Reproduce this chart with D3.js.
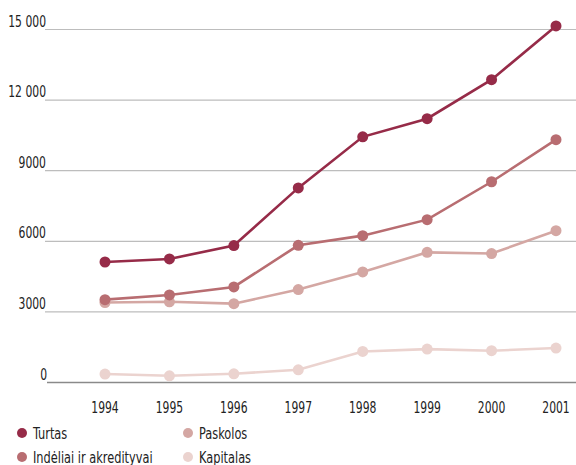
<!DOCTYPE html>
<html>
<head>
<meta charset="utf-8">
<script src="https://cdn.jsdelivr.net/npm/d3@7"></script>
<style>
  body { margin: 0; background: #fff; }
  svg { display: block; font-family: "DejaVu Sans Condensed", "Liberation Sans Narrow", sans-serif; }
</style>
</head>
<body>
<div id="chart"></div>
<script>
// Line chart: bank balance items by year
const years = [1994, 1995, 1996, 1997, 1998, 1999, 2000, 2001];
const yTicks = [0, 3000, 6000, 9000, 12000, 15000];

const turtas    = [5120, 5250, 5820, 8270, 10440, 11210, 12870, 15150];
const indeliai  = [3520, 3720, 4060, 5830, 6240, 6920, 8530, 10320];
const paskolos  = [3400, 3430, 3350, 3950, 4700, 5530, 5480, 6450];
const kapitalas = [360, 285, 370, 540, 1320, 1420, 1350, 1465];

const seriesNames  = ['Turtas', 'Indėliai ir akredityvai', 'Paskolos', 'Kapitalas'];
const seriesColors = ['#962b48', '#b86d71', '#d4a7a3', '#ebd3cf'];
const seriesValues = [turtas, indeliai, paskolos, kapitalas];

const width = 576, height = 465;
const svg = d3.select('#chart').append('svg')
    .attr('width', width)
    .attr('height', height);

const x = d3.scalePoint().domain(years).range([105, 556]);
const y = d3.scaleLinear().domain([0, 15000]).range([382.5, 29.5]);

const fmt = v => v >= 10000 ? d3.format(',')(v).replace(',', ' ') : String(v);

// condensed text: the reference face is much narrower than DejaVu Condensed
function label(sel, sx) {
    return sel.append('g')
        .attr('transform', d => `translate(${d.x},${d.y}) scale(${sx},1)`)
        .append('text')
        .attr('fill', '#222');
}

// Gridlines
svg.append('g').selectAll('line').data(yTicks).enter().append('line')
    .attr('x1', d => d === 0 ? 47 : 45).attr('x2', width)
    .attr('y1', d => y(d)).attr('y2', d => y(d))
    .attr('stroke', d => d === 0 ? '#8a8a8a' : '#bdbdbd')
    .attr('stroke-width', d => d === 0 ? 1.6 : 1.2);

// Y labels
const yl = svg.append('g').selectAll('g').data(yTicks.map(v => ({ v, x: v === 0 ? 47 : 46, y: y(v) - 3 }))).enter();
label(yl, 0.8)
    .attr('text-anchor', 'end')
    .attr('font-size', 15)
    .text(d => fmt(d.v));

// X labels
const xl = svg.append('g').selectAll('g').data(years.map(v => ({ v, x: x(v), y: 413 }))).enter();
label(xl, 0.8)
    .attr('text-anchor', 'middle')
    .attr('font-size', 15)
    .text(d => d.v);

// Series, lightest first so darker lines sit on top
const line = d3.line().x((d, i) => x(years[i])).y(d => y(d));
[3, 2, 1, 0].forEach(k => {
    const g = svg.append('g');
    g.append('path')
        .datum(seriesValues[k])
        .attr('d', line)
        .attr('fill', 'none')
        .attr('stroke', seriesColors[k])
        .attr('stroke-width', 2.6);
    g.selectAll('circle').data(seriesValues[k]).enter().append('circle')
        .attr('cx', (d, i) => x(years[i]))
        .attr('cy', d => y(d))
        .attr('r', 5.5)
        .attr('fill', seriesColors[k]);
});

// Legend
const legendPos = [[22, 433], [22, 457], [188, 433], [188, 457]];
const legend = svg.append('g').selectAll('g').data(seriesNames).enter().append('g')
    .attr('transform', (d, i) => `translate(${legendPos[i][0]},${legendPos[i][1]})`);
legend.append('circle').attr('r', 5).attr('fill', (d, i) => seriesColors[i]);
legend.append('g')
    .attr('transform', 'translate(11,6) scale(0.79,1)')
    .append('text')
    .attr('font-size', 16)
    .attr('fill', '#222')
    .text(d => d);
</script>
</body>
</html>
